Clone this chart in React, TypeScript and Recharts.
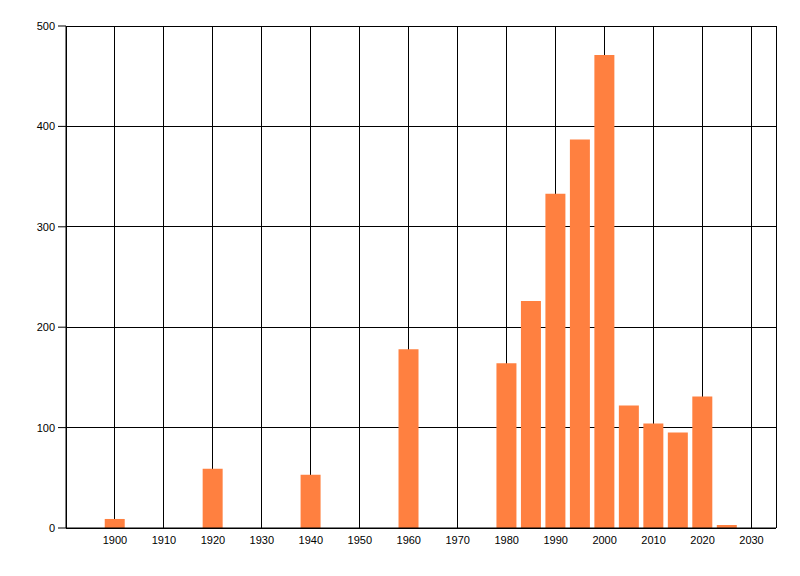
import { Bar, BarChart, CartesianGrid, XAxis, YAxis } from 'recharts';

const years = [1900, 1920, 1940, 1960, 1980, 1985, 1990, 1995, 2000, 2005, 2010, 2015, 2020, 2025];
const counts = [9, 59, 53, 178, 164, 226, 333, 387, 471, 122, 104, 95, 131, 3];
const xTicks = [1900, 1910, 1920, 1930, 1940, 1950, 1960, 1970, 1980, 1990, 2000, 2010, 2020, 2030];
const yTicks = [0, 100, 200, 300, 400, 500];

const BAR_COLOR = '#FF8040';

const data = years.map((year, i) => ({ year, value: counts[i] }));

const tickStyle = { fontSize: 11, fill: '#000', fontFamily: '"Liberation Sans", Arial, sans-serif' };

export default function App() {
  return (
    <div style={{ position: 'absolute', left: 0, top: 0, width: 800, height: 576, background: '#fff' }}>
      <BarChart width={800} height={576} data={data} margin={{ top: 26, right: 24, bottom: 0, left: 0 }}>
        <CartesianGrid stroke="#000" strokeWidth={1} shapeRendering="crispEdges" />
        <XAxis
          dataKey="year"
          type="number"
          domain={[1890, 2035]}
          ticks={xTicks}
          allowDataOverflow
          height={48}
          tickLine={false}
          axisLine={{ stroke: '#000' }}
          tick={tickStyle}
          interval={0}
        />
        <YAxis
          type="number"
          domain={[0, 500]}
          ticks={yTicks}
          width={66}
          tickSize={8}
          tickMargin={3}
          tickLine={{ stroke: '#000' }}
          axisLine={{ stroke: '#000' }}
          tick={tickStyle}
          interval={0}
        />
        <Bar dataKey="value" fill={BAR_COLOR} barSize={20} isAnimationActive={false} />
      </BarChart>
    </div>
  );
}
